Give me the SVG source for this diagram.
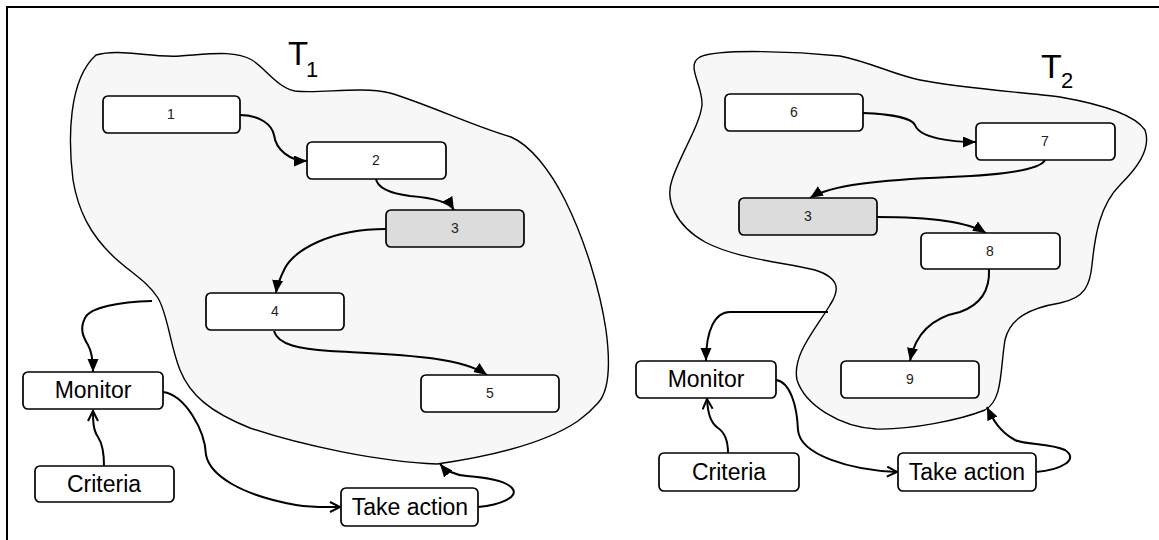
<svg xmlns="http://www.w3.org/2000/svg" width="1159" height="540" viewBox="0 0 1159 540">
<style>
.blob{fill:#f7f7f7;stroke:#000;stroke-width:1.4}
.box{fill:#fff;stroke:#000;stroke-width:1.7}
.gray{fill:#dcdcdc}
.num{font-family:"Liberation Sans",Arial,sans-serif;font-size:14px;text-anchor:middle;fill:#222}
.lbl{font-family:"Liberation Sans",Arial,sans-serif;font-size:23px;text-anchor:middle;fill:#000}
.t{font-family:"Liberation Sans",Arial,sans-serif;fill:#000}
.e{fill:none;stroke:#000;stroke-width:2}
.f{marker-end:url(#fa)}
.o{marker-end:url(#oa)}
</style>
<defs>
<marker id="fa" markerUnits="userSpaceOnUse" markerWidth="15" markerHeight="13" refX="13" refY="5.5" orient="auto"><path d="M0,0 L13,5.5 L0,11 Z" fill="#000"/></marker>
<marker id="oa" markerUnits="userSpaceOnUse" markerWidth="14" markerHeight="14" refX="11" refY="6" orient="auto"><path d="M1,1 L11,6 L1,11" fill="none" stroke="#000" stroke-width="2"/></marker>
</defs>
<g id="frame"><path d="M7,540 L7,7 L1159,7" fill="none" stroke="#000" stroke-width="2"/></g>
<g id="T1">
<path class="blob" d="M96,55 C120,48 150,58 180,56 C210,54 235,50 252,60 C265,68 278,88 295,91 C320,94 360,86 390,93 C430,105 470,125 511,137 C530,145 550,170 565,200 C585,240 600,290 606,330 C610,360 610,390 598,403 C590,412 585,416 578,421 C550,440 500,455 437,464 C380,462 300,445 250,428 C210,412 190,395 180,370 C170,345 168,315 158,298 C148,282 130,272 115,258 C90,235 78,210 73,180 C68,140 68,80 96,55 Z"/>
<text class="t" x="288" y="65" font-size="33">T</text><text class="t" x="306" y="77" font-size="22">1</text>
</g>
<g id="T2">
<path class="blob" d="M700,57 C720,48 800,52 840,56 C870,62 895,75 920,80 C960,88 1020,92 1060,97 C1100,104 1135,115 1145,130 C1152,150 1135,170 1120,185 C1100,205 1095,235 1092,265 C1090,285 1085,298 1060,303 C1030,308 1010,318 1005,340 C1000,370 1003,400 985,410 C960,420 910,430 876,429 C840,427 805,405 797,380 C792,355 815,330 830,305 C840,290 840,278 815,270 C780,262 735,258 705,242 C675,225 665,200 672,180 C680,155 700,125 702,105 C703,85 685,65 700,57 Z"/>
<text class="t" x="1041" y="78" font-size="34">T</text><text class="t" x="1061" y="88" font-size="22">2</text>
</g>
<g id="connectors">
<path class="e f" d="M240,115 C260,115 272,125 274,135 C276,150 290,161 307,161"/>
<path class="e f" d="M376,179 C378,190 395,194 410,196 C435,198 450,203 454,210"/>
<path class="e f" d="M386,229 C330,229 295,250 285,268 C280,278 277,285 276,293"/>
<path class="e f" d="M274,331 C278,345 300,349 330,351 C400,355 460,356 487,375"/>
<path class="e f" d="M152,301 C120,302 90,307 85,318 C80,328 82,335 88,345 C92,352 93,360 93,372"/>
<path class="e o" d="M104,466 C104,452 102,443 98,437 C93,430 93,420 93,411"/>
<path class="e o" d="M163,392 C185,395 205,430 206,455 C210,475 240,495 296,505 C315,508 330,507 340,507"/>
<path class="e f" d="M478,507 C500,505 520,497 512,488 C505,480 480,477 467,476 C455,475 445,470 440,464"/>
<path class="e f" d="M863,113 C890,114 912,118 915,125 C920,138 950,142 976,142"/>
<path class="e f" d="M1045,160 C1040,170 1000,175 950,177 C880,180 830,185 810,198"/>
<path class="e f" d="M877,217 C920,217 965,220 986,233"/>
<path class="e f" d="M989,269 C990,290 980,305 960,312 C930,318 915,335 910,361"/>
<path class="e f" d="M828,312 L730,312 C715,312 706,330 706,361"/>
<path class="e o" d="M728,453 C728,440 724,432 718,428 C711,423 708,415 707,399"/>
<path class="e o" d="M776,380 C790,382 797,405 798,430 C800,455 850,470 897,472"/>
<path class="e f" d="M1036,472 C1060,470 1080,460 1065,450 C1050,443 1025,445 1015,440 C1000,432 993,420 987,407"/>
</g>
<g id="n1"><rect class="box" x="103" y="96" width="137" height="37" rx="5"/><text class="num" x="171" y="119">1</text></g>
<g id="n2"><rect class="box" x="307" y="142" width="139" height="37" rx="5"/><text class="num" x="376" y="165">2</text></g>
<g id="n3a"><rect class="box gray" x="386" y="210" width="138" height="37" rx="5"/><text class="num" x="455" y="233">3</text></g>
<g id="n4"><rect class="box" x="206" y="293" width="138" height="37" rx="5"/><text class="num" x="275" y="316">4</text></g>
<g id="n5"><rect class="box" x="421" y="375" width="138" height="37" rx="5"/><text class="num" x="490" y="398">5</text></g>
<g id="monitor1"><rect class="box" x="23" y="372" width="140" height="37" rx="5"/><text class="lbl" x="93" y="398">Monitor</text></g>
<g id="criteria1"><rect class="box" x="35" y="466" width="139" height="36" rx="5"/><text class="lbl" x="104" y="492">Criteria</text></g>
<g id="action1"><rect class="box" x="341" y="488" width="137" height="38" rx="5"/><text class="lbl" x="410" y="515">Take action</text></g>
<g id="n6"><rect class="box" x="725" y="94" width="138" height="37" rx="5"/><text class="num" x="794" y="117">6</text></g>
<g id="n7"><rect class="box" x="976" y="123" width="139" height="37" rx="5"/><text class="num" x="1045" y="146">7</text></g>
<g id="n3b"><rect class="box gray" x="739" y="198" width="138" height="37" rx="5"/><text class="num" x="808" y="221">3</text></g>
<g id="n8"><rect class="box" x="921" y="233" width="139" height="36" rx="5"/><text class="num" x="990" y="256">8</text></g>
<g id="n9"><rect class="box" x="841" y="361" width="138" height="37" rx="5"/><text class="num" x="910" y="384">9</text></g>
<g id="monitor2"><rect class="box" x="636" y="361" width="140" height="37" rx="5"/><text class="lbl" x="706" y="387">Monitor</text></g>
<g id="criteria2"><rect class="box" x="659" y="453" width="140" height="38" rx="5"/><text class="lbl" x="729" y="480">Criteria</text></g>
<g id="action2"><rect class="box" x="898" y="453" width="138" height="38" rx="5"/><text class="lbl" x="967" y="480">Take action</text></g>
</svg>
